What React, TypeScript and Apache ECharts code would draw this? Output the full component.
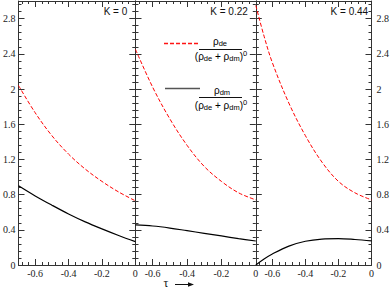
import React, { useEffect, useRef } from "react";
import * as echarts from "echarts";

// ---- data ----
const tauK0 = [-0.7, -0.6, -0.5, -0.4, -0.3, -0.2, -0.1, 0];
const deK0 = [2.04, 1.73, 1.47, 1.26, 1.09, 0.95, 0.83, 0.73];
const dmK0 = [0.9, 0.785, 0.68, 0.58, 0.49, 0.41, 0.335, 0.265];

const tauK022 = [-0.7, -0.6, -0.5, -0.4, -0.3, -0.2, -0.1, 0];
const deK022 = [2.45, 2.02, 1.66, 1.36, 1.12, 0.95, 0.82, 0.74];
const dmK022 = [0.455, 0.443, 0.42, 0.39, 0.36, 0.33, 0.3, 0.273];

const tauK044 = [-0.7, -0.65, -0.6, -0.5, -0.4, -0.3, -0.2, -0.1, 0];
const deK044 = [2.95, 2.6, 2.3, 1.84, 1.47, 1.17, 0.95, 0.82, 0.74];
const dmK044 = [0.0, 0.068, 0.125, 0.215, 0.27, 0.295, 0.3, 0.29, 0.275];

const panelLabels = ["K = 0", "K = 0.22", "K = 0.44"];

const xMajor = [-0.6, -0.4, -0.2, 0];
const xMinor = [-0.68, -0.64, -0.56, -0.52, -0.48, -0.44, -0.36, -0.32, -0.28, -0.24, -0.16, -0.12, -0.08, -0.04];
const yMajor = [0, 0.4, 0.8, 1.2, 1.6, 2, 2.4, 2.8];
const yMinor = [
  0.08, 0.16, 0.24, 0.32, 0.48, 0.56, 0.64, 0.72, 0.88, 0.96, 1.04, 1.12,
  1.28, 1.36, 1.44, 1.52, 1.68, 1.76, 1.84, 1.92, 2.08, 2.16, 2.24, 2.32,
  2.48, 2.56, 2.64, 2.72, 2.88, 2.96,
];

const X_MIN = -0.7;
const X_MAX = 0;
const Y_MIN = 0;
const Y_MAX = 3;

const panels = [
  { tau: tauK0, de: deK0, dm: dmK0 },
  { tau: tauK022, de: deK022, dm: dmK022 },
  { tau: tauK044, de: deK044, dm: dmK044 },
];

const gridLefts = [15, 135.5, 255.8];
const GRID_W = 120.3;
const GRID_TOP = 1;
const GRID_H = 264;

const AXIS_COLOR = "#333";
const LABEL_FONT = "'Liberation Serif', 'Times New Roman', serif";
const SANS = "'Liberation Sans', Arial, sans-serif";

export default function App() {
  const ref = useRef<HTMLDivElement>(null);

  useEffect(() => {
    if (!ref.current) return;
    const chart = echarts.init(ref.current, undefined, { renderer: "svg" });

    const grids: any[] = [];
    const xAxes: any[] = [];
    const yAxes: any[] = [];
    const series: any[] = [];

    panels.forEach((p, gi) => {
      grids.push({ left: gridLefts[gi], top: GRID_TOP, width: GRID_W, height: GRID_H, containLabel: false });

      const xBase = (position: string, ticks: number[], len: number, showLine: boolean, showLabel: boolean) => ({
        type: "value",
        gridIndex: gi,
        position,
        min: X_MIN,
        max: X_MAX,
        axisLine: { show: showLine, onZero: false, lineStyle: { color: AXIS_COLOR, width: 1 } },
        axisTick: { show: true, inside: true, length: len, customValues: ticks, lineStyle: { color: AXIS_COLOR, width: 1 } },
        axisLabel: {
          show: showLabel,
          customValues: xMajor,
          margin: 3,
          fontFamily: LABEL_FONT,
          fontSize: 10,
          color: "#222",
        },
        splitLine: { show: false },
      });
      const yBase = (position: string, ticks: number[], len: number, showLine: boolean, showLabel: boolean) => ({
        type: "value",
        gridIndex: gi,
        position,
        min: Y_MIN,
        max: Y_MAX,
        axisLine: { show: showLine, onZero: false, lineStyle: { color: AXIS_COLOR, width: 1 } },
        axisTick: { show: true, inside: true, length: len, customValues: ticks, lineStyle: { color: AXIS_COLOR, width: 1 } },
        axisLabel: {
          show: showLabel,
          customValues: yMajor,
          margin: position === "right" ? 5 : 3,
          fontFamily: LABEL_FONT,
          fontSize: 10,
          color: "#222",
        },
        splitLine: { show: false },
      });

      const xi = xAxes.length;
      xAxes.push(xBase("bottom", xMajor, 6, true, true));
      xAxes.push(xBase("bottom", xMinor, 3, false, false));
      xAxes.push(xBase("top", xMajor, 6, true, false));
      xAxes.push(xBase("top", xMinor, 3, false, false));

      const yi = yAxes.length;
      yAxes.push(yBase("left", yMajor, 6, true, gi === 0));
      yAxes.push(yBase("left", yMinor, 3, false, false));
      yAxes.push(yBase("right", yMajor, 6, true, gi === 2));
      yAxes.push(yBase("right", yMinor, 3, false, false));

      series.push({
        type: "line",
        xAxisIndex: xi,
        yAxisIndex: yi,
        data: p.tau.map((t, i) => [t, p.de[i]]),
        smooth: 0.35,
        showSymbol: false,
        lineStyle: { color: "#ff0000", width: 1, type: [4, 2] },
        silent: true,
      });
      series.push({
        type: "line",
        xAxisIndex: xi,
        yAxisIndex: yi,
        data: p.tau.map((t, i) => [t, p.dm[i]]),
        smooth: 0.35,
        showSymbol: false,
        lineStyle: { color: "#000", width: 1.2 },
        silent: true,
      });
    });

    const richFrac = {
      n: { fontSize: 10, fontFamily: SANS, color: "#111", lineHeight: 13 },
      s: { fontSize: 7.5, fontFamily: SANS, color: "#111", lineHeight: 8, verticalAlign: "bottom" },
      p: { fontSize: 7.5, fontFamily: SANS, color: "#111", lineHeight: 8, verticalAlign: "top" },
    };

    const graphic: any[] = [];
    panelLabels.forEach((lab, gi) => {
      graphic.push({
        type: "text",
        right: 392 - (gridLefts[gi] + GRID_W - 8),
        top: 6,
        style: { text: lab, font: `10px ${SANS}`, fill: "#111" },
      });
    });

    // legend: red dashed sample
    graphic.push({
      type: "line",
      shape: { x1: 164, y1: 43.5, x2: 199, y2: 43.5 },
      style: { stroke: "rgb(255,20,20)", lineWidth: 1.4, lineDash: [4, 2] },
      z: 10,
    });
    graphic.push(
      {
        type: "text", x: 220, y: 41,
        style: { text: "{n|ρ}{s|de}", rich: richFrac, align: "center", verticalAlign: "middle" },
      },
      { type: "line", shape: { x1: 199, y1: 49.5, x2: 242, y2: 49.5 }, style: { stroke: "#111", lineWidth: 1 } },
      {
        type: "text", x: 221, y: 56,
        style: { text: "{n|(ρ}{s|de}{n| + ρ}{s|dm}{n|)}{p|0}", rich: richFrac, align: "center", verticalAlign: "middle" },
      },
      { type: "line", shape: { x1: 165, y1: 88.5, x2: 200, y2: 88.5 }, style: { stroke: "#555", lineWidth: 1.5 } },
      {
        type: "text", x: 222, y: 90,
        style: { text: "{n|ρ}{s|dm}", rich: richFrac, align: "center", verticalAlign: "middle" },
      },
      { type: "line", shape: { x1: 199, y1: 97.5, x2: 242, y2: 97.5 }, style: { stroke: "#111", lineWidth: 1 } },
      {
        type: "text", x: 221, y: 105,
        style: { text: "{n|(ρ}{s|de}{n| + ρ}{s|dm}{n|)}{p|0}", rich: richFrac, align: "center", verticalAlign: "middle" },
      },
      // tau arrow
      {
        type: "text", x: 166, y: 282.5,
        style: { text: "τ", font: `12px ${LABEL_FONT}`, fill: "#111", align: "center", verticalAlign: "middle" },
      },
      { type: "line", shape: { x1: 175, y1: 284.5, x2: 190, y2: 284.5 }, style: { stroke: "#111", lineWidth: 1 } },
      { type: "polygon", shape: { points: [[194, 284.5], [188, 282.3], [188, 286.7]] }, style: { fill: "#111" } }
    );

    chart.setOption({
      animation: false,
      backgroundColor: "#fff",
      grid: grids,
      xAxis: xAxes,
      yAxis: yAxes,
      series,
      graphic,
    });

    return () => chart.dispose();
  }, []);

  return (
    <div
      ref={ref}
      style={{ position: "fixed", left: 0, top: 0, width: 392, height: 289 }}
    />
  );
}
